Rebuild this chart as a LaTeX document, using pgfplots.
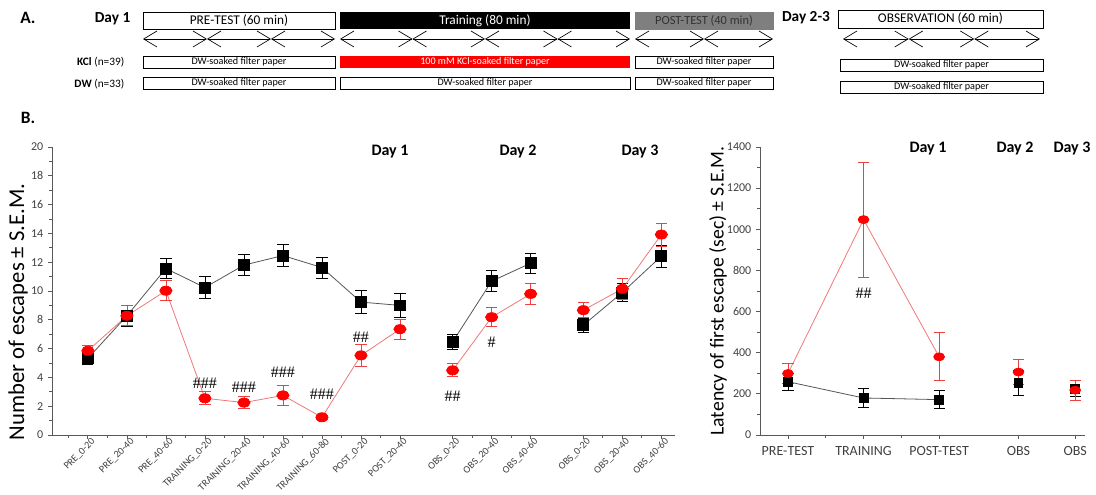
\documentclass[border=0pt]{standalone}
\usepackage{fontspec}
\setmainfont{Carlito}
\newfontfamily\hashfont{Liberation Serif}
\usepackage{pgfplots}
\pgfplotsset{compat=1.18}
\usepackage{pgfplotstable}
\usetikzlibrary{arrows.meta}

\definecolor{axgray}{HTML}{595959}
\definecolor{ticktext}{HTML}{404040}
\definecolor{kclred}{HTML}{FF0000}
\definecolor{kclline}{HTML}{F07878}
\definecolor{kclerr}{HTML}{EE4040}
\definecolor{dwline}{HTML}{555555}
\definecolor{postgray}{HTML}{7F7F7F}

% Left panel: number of escapes (x = plotting position)
\pgfplotstableread{
x dw dwe kcl kcle
0 5.32 0.40 5.85 0.40
1 8.28 0.72 8.28 0.70
2 11.56 0.70 10.02 0.70
3 10.24 0.75 2.55 0.45
4 11.80 0.75 2.25 0.40
5 12.46 0.75 2.75 0.70
6 11.63 0.73 1.23 0.15
7 9.23 0.80 5.53 0.78
8 9.00 0.80 7.35 0.70
}\dayone
\pgfplotstableread{
x dw dwe kcl kcle
9.35 6.47 0.50 4.49 0.45
10.35 10.68 0.72 8.18 0.67
11.35 11.93 0.70 9.80 0.72
}\daytwo
\pgfplotstableread{
x dw dwe kcl kcle
12.7 7.63 0.50 8.67 0.53
13.7 9.90 0.60 10.15 0.75
14.7 12.42 0.75 13.92 0.80
}\daythree
% Right panel: latency of first escape
\pgfplotstableread{
x dw dwe kcl kcle
0 259 41 299 49
1 180 46 1047 280
2 172 45 380 117
}\latday
\pgfplotstableread{
x dw dwe kcl kcle
3.05 253 60 306 60
3.8 226 40 218 48
}\latobs

\pgfplotsset{
  panel/.style={
    scale only axis, clip=false,
    axis x line*=bottom, axis y line*=left,
    axis line style={axgray, line width=0.6pt},
    tick style={axgray, line width=0.6pt},
    tick align=outside, major tick length=3pt, minor tick length=2pt,
    ticklabel style={font=\fontsize{9}{10}\selectfont, text=ticktext},
    /pgf/number format/assume math mode=true,
    /pgf/number format/1000 sep={},
  },
  dwplot/.style={color=dwline, line width=0.6pt, mark=square*, mark size=#1,
    mark options={fill=black, draw=black},
    error bars/y dir=both, error bars/y explicit,
    error bars/error bar style={black, line width=0.6pt},
    error bars/error mark options={black, rotate=90, mark size=4.2pt, line width=0.6pt}},
  kclplot/.style={color=kclline, line width=0.6pt, mark=*, mark size=#1,
    mark options={fill=kclred, draw=kclred, xscale=1.35},
    error bars/y dir=both, error bars/y explicit,
    error bars/error bar style={kclerr, line width=0.6pt},
    error bars/error mark options={kclerr, rotate=90, mark size=4.2pt, line width=0.6pt}},
}

\begin{document}
\begin{tikzpicture}
\useasboundingbox (0,0) rectangle (822pt,-371.25pt);

\begin{scope}[x=0.75pt, y=-0.75pt]
  % ---------- Panel A schematic ----------
  \node[font=\bfseries\fontsize{13}{14}\selectfont] at (28,18) {A.};
  \node[font=\bfseries\fontsize{11.5}{12}\selectfont, anchor=east] at (135,19) {Day 1};
  \draw[line width=0.6pt] (143,12) rectangle (335,29);
  \node[font=\fontsize{10}{11}\selectfont] at (239,20.5) {PRE-TEST (60 min)};
  \fill[black] (340,12) rectangle (630,29);
  \node[font=\fontsize{10}{11}\selectfont, text=white] at (485,20.5) {Training (80 min)};
  \filldraw[fill=postgray, draw=postgray] (635,12) rectangle (773,29);
  \node[font=\fontsize{9.3}{10}\selectfont, text=black!80] at (704,20.5) {POST-TEST (40 min)};
  \node[font=\bfseries\fontsize{11.5}{12}\selectfont] at (806,18) {Day 2-3};
  \draw[line width=0.6pt] (838,10) rectangle (1043,28);
  \node[font=\fontsize{10}{11}\selectfont] at (940.5,19) {OBSERVATION (60 min)};

  \foreach \a/\b in {143/207,207/271,271/335,340/412.5,412.5/485,485/557.5,557.5/630,635/704,704/773,843/908.7,908.7/974.3,974.3/1040}
    \draw[{Straight Barb[length=10pt,width=12pt]}-{Straight Barb[length=10pt,width=12pt]}, line width=0.5pt] (\a,39) -- (\b,39);

  \node[anchor=east, font=\fontsize{8.5}{9}\selectfont] at (129,62) {\textbf{KCl} (n=39)};
  \node[anchor=east, font=\fontsize{8.5}{9}\selectfont] at (129,84) {\textbf{DW} (n=33)};

  \tikzset{fp/.style={font=\fontsize{7.6}{8}\selectfont}}
  \draw[line width=0.6pt] (143,56) rectangle (335,68); \node[fp] at (239,62) {DW-soaked filter paper};
  \fill[kclred] (340,56) rectangle (630,68); \node[fp, text=white] at (485,62) {100 mM KCl-soaked filter paper};
  \draw[line width=0.6pt] (635,56) rectangle (773,68); \node[fp] at (704,62) {DW-soaked filter paper};
  \draw[line width=0.6pt] (840,59) rectangle (1043,71); \node[fp] at (941.5,65) {DW-soaked filter paper};
  \draw[line width=0.6pt] (143,77) rectangle (335,89); \node[fp] at (239,83) {DW-soaked filter paper};
  \draw[line width=0.6pt] (340,77) rectangle (630,89); \node[fp] at (485,83) {DW-soaked filter paper};
  \draw[line width=0.6pt] (635,77) rectangle (773,89); \node[fp] at (704,83) {DW-soaked filter paper};
  \draw[line width=0.6pt] (840,81) rectangle (1043,93); \node[fp] at (941.5,87) {DW-soaked filter paper};

  % ---------- Panel B labels ----------
  \node[font=\bfseries\fontsize{13}{14}\selectfont] at (28,118) {B.};
  \foreach \xx/\yy/\t in {390/152/Day 1, 518/152/Day 2, 640/152/Day 3, 928/149/Day 1, 1015/149/Day 2, 1072/149/Day 3}
    \node[font=\bfseries\fontsize{12}{13}\selectfont] at (\xx,\yy) {\t};
  \node[rotate=90, font=\fontsize{17}{18}\selectfont] at (18,312) {Number of escapes ± S.E.M.};
  \node[rotate=90, font=\fontsize{14.8}{16}\selectfont] at (718,291) {Latency of first escape (sec) ± S.E.M.};
\end{scope}

% ---------- Left axis ----------
\begin{axis}[panel,
  at={(39pt,-326.25pt)}, anchor=south west,
  width=467.25pt, height=216pt,
  xmin=-0.92, xmax=15.05, ymin=0, ymax=20,
  ytick={0,2,...,20}, minor y tick num=1,
  xtick={0,1,2,3,4,5,6,7,8,9.35,10.35,11.35,12.7,13.7,14.7},
  minor xtick={-0.5,0.5,1.5,2.5,3.5,4.5,5.5,6.5,7.5,9.85,10.85,13.2,14.2},
  xticklabels={PRE\_0-20,PRE\_20-40,PRE\_40-60,TRAINING\_0-20,TRAINING\_20-40,TRAINING\_40-60,TRAINING\_60-80,POST\_0-20,POST\_20-40,OBS\_0-20,OBS\_20-40,OBS\_40-60,OBS\_0-20,OBS\_20-40,OBS\_40-60},
  xticklabel style={rotate=45, anchor=north east, font=\fontsize{7.6}{9}\selectfont, inner sep=0.5pt, xshift=3pt, yshift=0pt},
]
\addplot[dwplot=4.1pt] table[x=x, y=dw, y error=dwe] {\dayone};
\addplot[kclplot=3.4pt] table[x=x, y=kcl, y error=kcle] {\dayone};
\addplot[dwplot=4.1pt] table[x=x, y=dw, y error=dwe] {\daytwo};
\addplot[kclplot=3.4pt] table[x=x, y=kcl, y error=kcle] {\daytwo};
\addplot[dwplot=4.1pt] table[x=x, y=dw, y error=dwe] {\daythree};
\addplot[kclplot=3.4pt] table[x=x, y=kcl, y error=kcle] {\daythree};
\tikzset{hs/.style={font=\hashfont\fontsize{12}{12}\selectfont, inner sep=0pt}}
\node[hs] at (axis cs:3,3.6) {\#\#\#};
\node[hs] at (axis cs:4,3.35) {\#\#\#};
\node[hs] at (axis cs:5,4.35) {\#\#\#};
\node[hs] at (axis cs:6,2.85) {\#\#\#};
\node[hs] at (axis cs:7,6.8) {\#\#};
\node[hs] at (axis cs:9.35,2.7) {\#\#};
\node[hs] at (axis cs:10.35,6.45) {\#};
\end{axis}

% ---------- Right axis ----------
\begin{axis}[panel,
  at={(570pt,-326.25pt)}, anchor=south west,
  width=243.75pt, height=216pt,
  xmin=-0.37, xmax=3.93, ymin=0, ymax=1400,
  ytick={0,200,...,1400}, minor y tick num=1,
  xtick={0,1,2,3.05,3.8}, minor xtick={0.5,1.5},
  xticklabels={PRE-TEST,TRAINING,POST-TEST,OBS,OBS},
  xticklabel style={font=\fontsize{10.5}{11}\selectfont, yshift=-2pt},
]
\addplot[dwplot=3.3pt] table[x=x, y=dw, y error=dwe] {\latday};
\addplot[kclplot=3pt] table[x=x, y=kcl, y error=kcle] {\latday};
\addplot[only marks, dwplot=3.3pt] table[x=x, y=dw, y error=dwe] {\latobs};
\addplot[only marks, kclplot=3pt] table[x=x, y=kcl, y error=kcle] {\latobs};
\node[font=\hashfont\fontsize{12}{12}\selectfont] at (axis cs:1,690) {\#\#};
\end{axis}
\end{tikzpicture}
\end{document}
